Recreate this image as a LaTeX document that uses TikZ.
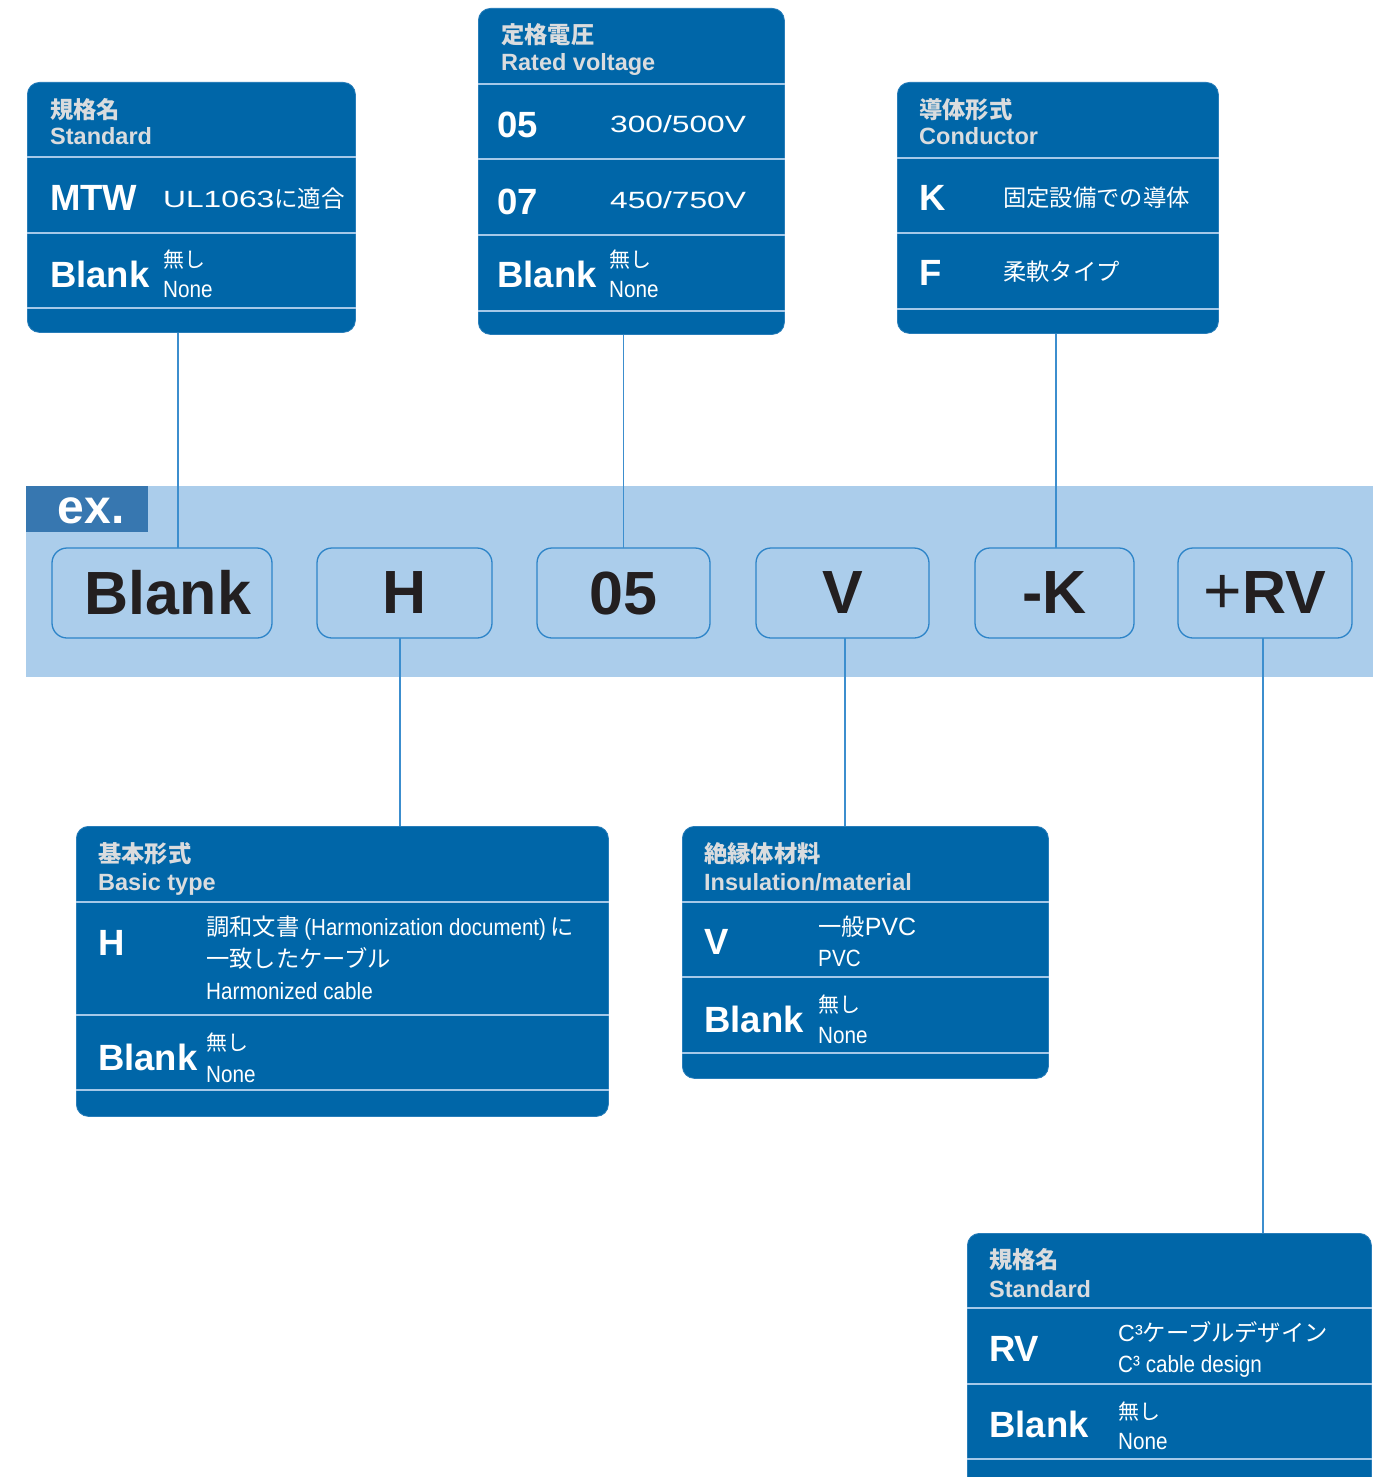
\documentclass[tikz,border=0pt]{standalone}
\usepackage{fontspec}
\setmainfont{Liberation Sans}
\newfontfamily\jpfont{Noto Sans CJK JP}
\newfontfamily\condfont[FakeStretch=0.88]{Liberation Sans}
\newfontfamily\widefont[FakeStretch=1.35]{Liberation Sans}
\usetikzlibrary{positioning}

\definecolor{panelblue}{RGB}{0,102,168}
\definecolor{panelline}{RGB}{40,125,185}
\definecolor{divline}{RGB}{165,200,232}
\definecolor{hdrgray}{RGB}{218,220,222}
\definecolor{bandblue}{RGB}{171,205,235}
\definecolor{tabblue}{RGB}{55,119,176}
\definecolor{codeline}{RGB}{45,132,200}
\definecolor{codetext}{RGB}{35,31,32}
\definecolor{linkblue}{RGB}{60,142,206}

\begin{document}
\begin{tikzpicture}[
  x=1pt, y=-1pt,
  panel/.style={rectangle, rounded corners=12pt, fill=panelblue, draw=panelline, line width=0.8pt, inner sep=0pt, anchor=north west},
  divider/.style={draw=divline, line width=1.5pt},
  codebox/.style={rectangle, rounded corners=15pt, draw=codeline, line width=1.3pt, minimum height=90pt, inner sep=0pt, outer sep=0pt, text=codetext, font=\bfseries\fontsize{61}{61}\selectfont},
  link/.style={draw=linkblue, line width=1.1pt},
  hjp/.style={anchor=base west, inner sep=0pt, text=hdrgray, font=\jpfont\bfseries\fontsize{23.3}{23}\selectfont},
  hen/.style={anchor=base west, inner sep=0pt, text=hdrgray, font=\bfseries\fontsize{23.5}{24}\selectfont},
  keytxt/.style={anchor=base west, inner sep=0pt, text=white, font=\bfseries\fontsize{36.5}{37}\selectfont},
  jptxt/.style={anchor=base west, inner sep=0pt, text=white, font=\jpfont\fontsize{23.3}{24}\selectfont},
  smalljp/.style={anchor=base west, inner sep=0pt, text=white, font=\jpfont\fontsize{21}{21}\selectfont},
  widetxt/.style={anchor=base west, inner sep=0pt, text=white, font=\widefont\fontsize{23.5}{24}\selectfont},
  condtxt/.style={anchor=base west, inner sep=0pt, text=white, font=\condfont\fontsize{23.5}{24}\selectfont},
]
  \useasboundingbox (0,0) rectangle (1397,1477);
  \clip (0,0) rectangle (1397,1477);

  % Example band
  \node[rectangle, fill=bandblue, inner sep=0pt, minimum width=1347, minimum height=191, anchor=north west] (band) at (26,486) {};
  \node[rectangle, fill=tabblue, inner sep=0pt, minimum width=122, minimum height=46, anchor=north west] (ex) at (band.north west) {};
  \node[text=white, inner sep=0pt, font=\bfseries\fontsize{48}{48}\selectfont] (exT) at ([xshift=4pt,yshift=-2pt]ex.center) {ex.};

  % Code boxes
  \node[codebox, minimum width=220, anchor=north west] (cBlank) at (52,548) {\hspace{12pt}Blank};
  \node[codebox, minimum width=175, right=45pt of cBlank] (cH) {H};
  \node[codebox, minimum width=173, right=45pt of cH] (c05) {05};
  \node[codebox, minimum width=173, right=46pt of c05] (cV) {V};
  \node[codebox, minimum width=159, right=46pt of cV] (cK) {-K};
  \node[codebox, minimum width=174, right=44pt of cK] (cRV) {{\mdseries\fontsize{66}{66}\selectfont +}RV};

  % Panels
  \node[panel, minimum width=328, minimum height=250] (std) at (27,82) {};
  \node[panel, minimum width=306, minimum height=326] (volt) at (478,8) {};
  \node[panel, minimum width=321, minimum height=251] (cond) at (897,82) {};
  \node[panel, minimum width=532, minimum height=290] (basic) at (76,826) {};
  \node[panel, minimum width=366, minimum height=252] (insul) at (682,826) {};
  \node[panel, minimum width=404, minimum height=280] (rvstd) at (967,1233) {};

  \foreach \y in {157,233,308} \draw[divider] (std.west |- 0,\y) -- (std.east |- 0,\y);
  \foreach \y in {84,159,235,311} \draw[divider] (volt.west |- 0,\y) -- (volt.east |- 0,\y);
  \foreach \y in {158,233,309} \draw[divider] (cond.west |- 0,\y) -- (cond.east |- 0,\y);
  \foreach \y in {902,1015,1090} \draw[divider] (basic.west |- 0,\y) -- (basic.east |- 0,\y);
  \foreach \y in {902,977,1053} \draw[divider] (insul.west |- 0,\y) -- (insul.east |- 0,\y);
  \foreach \y in {1308,1384,1459} \draw[divider] (rvstd.west |- 0,\y) -- (rvstd.east |- 0,\y);

  % Connectors
  \draw[link] ([xshift=16pt]cBlank.north) -- ([xshift=16pt]cBlank.north |- std.south);
  \draw[link] (c05.north) -- (c05.north |- volt.south);
  \draw[link] ([xshift=1.5pt]cK.north) -- ([xshift=1.5pt]cK.north |- cond.south);
  \draw[link] ([xshift=-4.5pt]cH.south) -- ([xshift=-4.5pt]cH.south |- basic.north);
  \draw[link] ([xshift=2.5pt]cV.south) -- ([xshift=2.5pt]cV.south |- insul.north);
  \draw[link] ([xshift=-2pt]cRV.south) -- ([xshift=-2pt]cRV.south |- rvstd.north);

  % Standard
  \node[hjp] (stdH1) at (50,118) {規格名};
  \node[hen] (stdH2) at (50,144) {Standard};
  \node[keytxt] (stdK1) at (50,210) {MTW};
  \node[widetxt] (stdD1) at (163,207) {UL1063{\jpfont に適合}};
  \node[keytxt] (stdK2) at (50,287) {Blank};
  \node[smalljp] (stdD2) at (163,267) {無し};
  \node[condtxt] (stdD3) at (163,297) {None};

  % Rated voltage
  \node[hjp] (voltH1) at (501,44) {定格電圧};
  \node[hen] (voltH2) at (501,71) {Rated voltage};
  \node[keytxt] (voltK1) at (497,138) {05};
  \node[widetxt] (voltD1) at (610,132) {300/500V};
  \node[keytxt] (voltK2) at (497,214) {07};
  \node[widetxt] (voltD2) at (610,208) {450/750V};
  \node[keytxt] (voltK3) at (497,287) {Blank};
  \node[smalljp] (voltD3) at (609,267) {無し};
  \node[condtxt] (voltD4) at (609,297) {None};

  % Conductor
  \node[hjp] (condH1) at (919,118) {導体形式};
  \node[hen] (condH2) at (919,145) {Conductor};
  \node[keytxt] (condK1) at (919,210) {K};
  \node[jptxt] (condD1) at (1003,206) {固定設備での導体};
  \node[keytxt] (condK2) at (919,285) {F};
  \node[jptxt] (condD2) at (1003,280) {柔軟タイプ};

  % Basic type
  \node[hjp] (basicH1) at (98,862) {基本形式};
  \node[hen] (basicH2) at (98,890) {Basic type};
  \node[keytxt] (basicK1) at (98,955) {H};
  \node[jptxt] (basicD1) at (206,935) {調和文書{\condfont\hspace{5pt}(Harmonization document)\hspace{5pt}}に};
  \node[jptxt] (basicD2) at (206,967) {一致したケーブル};
  \node[condtxt] (basicD3) at (206,999) {Harmonized cable};
  \node[keytxt] (basicK2) at (98,1070) {Blank};
  \node[smalljp] (basicD4) at (206,1050) {無し};
  \node[condtxt] (basicD5) at (206,1082) {None};

  % Insulation
  \node[hjp] (insulH1) at (704,862) {絶縁体材料};
  \node[hen] (insulH2) at (704,890) {Insulation/material};
  \node[keytxt] (insulK1) at (704,954) {V};
  \node[jptxt] (insulD1) at (818,935) {一般{\rmfamily\fontsize{25}{25}\selectfont PVC}};
  \node[condtxt] (insulD2) at (818,966) {PVC};
  \node[keytxt] (insulK2) at (704,1032) {Blank};
  \node[smalljp] (insulD3) at (818,1012) {無し};
  \node[condtxt] (insulD4) at (818,1043) {None};

  % Standard (RV)
  \node[hjp] (rvH1) at (989,1268) {規格名};
  \node[hen] (rvH2) at (989,1297) {Standard};
  \node[keytxt] (rvK1) at (989,1361) {RV};
  \node[jptxt] (rvD1) at (1118,1341) {{\rmfamily C³}ケーブルデザイン};
  \node[condtxt] (rvD2) at (1118,1372) {C³ cable design};
  \node[keytxt] (rvK2) at (989,1437) {Blank};
  \node[smalljp] (rvD3) at (1118,1419) {無し};
  \node[condtxt] (rvD4) at (1118,1449) {None};
\end{tikzpicture}
\end{document}
